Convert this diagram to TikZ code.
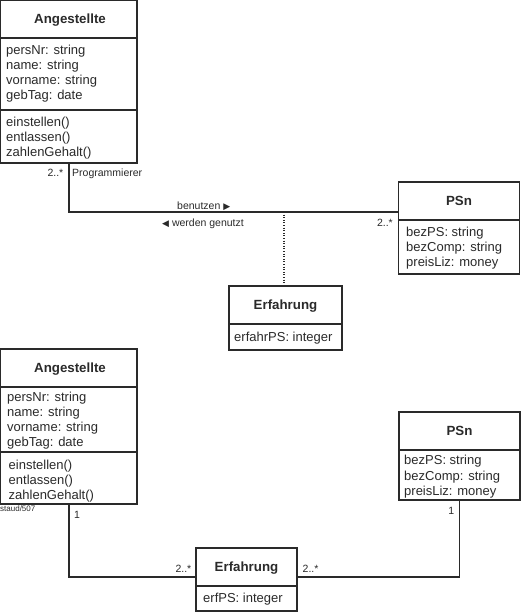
\documentclass[tikz,border=0pt]{standalone}
\usepackage{fontspec}
\setmainfont{Liberation Sans}
\newfontfamily\symfont{DejaVu Sans}
\definecolor{ink}{HTML}{2A2A2A}
\begin{document}
\begin{tikzpicture}[x=1pt,y=-1pt,
  box/.style={draw=ink,line width=1.4pt,inner sep=0pt,outer sep=0pt,anchor=north west},
  sep/.style={draw=ink,line width=1.4pt},
  hdr/.style={font=\fontsize{13.3}{15}\selectfont\bfseries,text=ink,inner sep=0pt,anchor=base},
  txt/.style={font=\fontsize{13}{15}\selectfont,text=ink,inner sep=0pt,anchor=base west},
  lbl/.style={font=\fontsize{10.5}{12}\selectfont,text=ink,inner sep=0pt,anchor=base west},
  lblr/.style={lbl,anchor=base east},
  assoc/.style={draw=ink,line width=1.3pt},
  dots/.style={draw=ink,line width=1.3pt,dash pattern=on 1pt off 1.6pt}]
\useasboundingbox[fill=white] (0,0) rectangle (521,612);
\newcommand{\tri}[1]{{\fontsize{9}{9}\symfont #1}}

% ---------- top: Angestellte ----------
\node[box,minimum width=136.3pt,minimum height=162.3pt] (A1) at (0.7,0.7) {};
\draw[sep] (0.7,38) -- (137,38);
\draw[sep] (0.7,110) -- (137,110);
\node[hdr] (A1h) at (70,23.5) {Angestellte};
\node[txt] (A1a1) at (6,54.5) {persNr: string};
\node[txt] (A1a2) at (6,69.5) {name: string};
\node[txt] (A1a3) at (6,84.5) {vorname: string};
\node[txt] (A1a4) at (6,99.5) {gebTag: date};
\node[txt] (A1m1) at (6,127) {einstellen()};
\node[txt] (A1m2) at (6,142) {entlassen()};
\node[txt] (A1m3) at (6,157) {zahlenGehalt()};

% ---------- top: PSn ----------
\node[box,minimum width=121pt,minimum height=92pt] (P1) at (398.5,182) {};
\draw[sep] (398.5,220) -- (519.5,220);
\node[hdr] (P1h) at (459,205.7) {PSn};
\node[txt] (P1a1) at (406,236.5) {bezPS: string};
\node[txt] (P1a2) at (406,251.5) {bezComp: string};
\node[txt] (P1a3) at (406,266.5) {preisLiz: money};

% ---------- top: Erfahrung ----------
\node[box,minimum width=113pt,minimum height=64pt] (E1) at (229,286) {};
\draw[sep] (229,324) -- (342,324);
\node[hdr] (E1h) at (285.5,309.7) {Erfahrung};
\node[txt] (E1a1) at (234,341.5) {erfahrPS: integer};

% ---------- top association ----------
\coordinate (m1) at (284,212);
\draw[assoc] (A1.south) |- (m1) -- (m1 -| P1.west);
\draw[dots] (m1) -- (m1 |- E1.north);
\node[lblr] (l1) at (63.5,177) {2..*};
\node[lbl] (l2) at (72,177) {Programmierer};
\node[lbl] (l3) at (177,209) {benutzen \tri{▶}};
\node[lbl] (l4) at (162,226) {\tri{◀} werden genutzt};
\node[lblr] (l5) at (393,226) {2..*};

% ---------- bottom: Angestellte ----------
\node[box,minimum width=136.3pt,minimum height=155pt] (A2) at (0.7,349) {};
\draw[sep] (0.7,387) -- (137,387);
\draw[sep] (0.7,452) -- (137,452);
\node[hdr] (A2h) at (70,372.7) {Angestellte};
\node[txt] (A2a1) at (7,401.5) {persNr: string};
\node[txt] (A2a2) at (7,416.5) {name: string};
\node[txt] (A2a3) at (7,431.5) {vorname: string};
\node[txt] (A2a4) at (7,446.5) {gebTag: date};
\node[txt] (A2m1) at (8.5,469.5) {einstellen()};
\node[txt] (A2m2) at (8.5,484.5) {entlassen()};
\node[txt] (A2m3) at (8.5,499.5) {zahlenGehalt()};
\node[lbl,font=\fontsize{8}{9}\selectfont] (st) at (0,511) {staud/507};

% ---------- bottom: PSn ----------
\node[box,minimum width=121pt,minimum height=88pt] (P2) at (399,412) {};
\draw[sep] (399,450) -- (520,450);
\node[hdr] (P2h) at (459.5,435.7) {PSn};
\node[txt] (P2a1) at (404,464.5) {bezPS: string};
\node[txt] (P2a2) at (404,480) {bezComp: string};
\node[txt] (P2a3) at (404,495) {preisLiz: money};

% ---------- bottom: Erfahrung ----------
\node[box,minimum width=101pt,minimum height=63pt] (E2) at (196,548) {};
\draw[sep] (196,586) -- (297,586);
\node[hdr] (E2h) at (246.5,571.7) {Erfahrung};
\node[txt] (E2a1) at (203,602) {erfPS: integer};

% ---------- bottom associations ----------
\coordinate (ly) at (0,577);
\draw[assoc] (A2.south) |- (E2.west |- ly);
\draw[assoc] (P2.south) |- (E2.east |- ly);
\node[lbl] (b1) at (74,518) {1};
\node[lblr] (b2) at (191.5,572.5) {2..*};
\node[lbl] (b3) at (302.5,572.5) {2..*};
\node[lblr] (b4) at (454.5,514.5) {1};
\end{tikzpicture}
\end{document}
